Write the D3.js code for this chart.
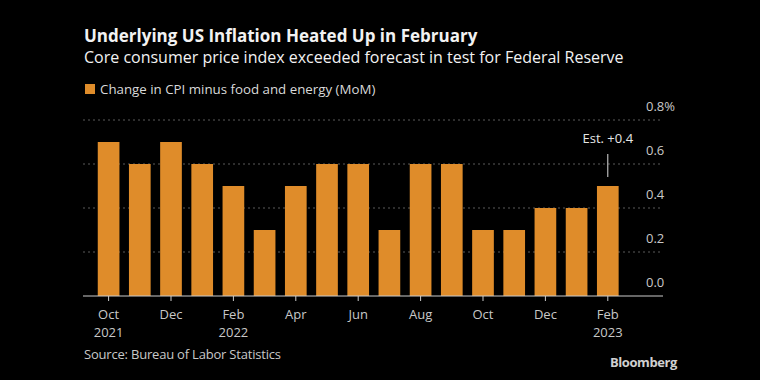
<!DOCTYPE html>
<html><head><meta charset="utf-8">
<script src="https://cdn.jsdelivr.net/npm/d3@7"></script>
<style>
html,body{margin:0;padding:0;background:#000;}
svg{display:block;}
text{font-family:"Open Sans","Noto Sans",sans-serif;}
</style></head>
<body>
<svg id="c" width="760" height="380"></svg>
<script>
const months = ["Oct","Nov","Dec","Jan","Feb","Mar","Apr","May","Jun","Jul","Aug","Sep","Oct","Nov","Dec","Jan","Feb"];
const years = [2021,2021,2021,2022,2022,2022,2022,2022,2022,2022,2022,2022,2022,2022,2022,2023,2023];
const values = [0.7,0.6,0.7,0.6,0.5,0.3,0.5,0.6,0.6,0.3,0.6,0.6,0.3,0.3,0.4,0.4,0.5];
const yTicks = [0, 0.2, 0.4, 0.6, 0.8];
const tickLabelIdx = [0,2,4,6,8,10,12,14,16];
const yearLabelIdx = [0,4,16];
const estimate = {index: 16, label: "Est. +0.4"};

const svg = d3.select("#c");
svg.append("rect").attr("width",760).attr("height",380).attr("fill","#000");

const ids = months.map((m,i)=>i);
const x = d3.scaleBand().domain(ids).range([93, 623.4]).paddingInner(0.305).paddingOuter(0.1525);
const y = d3.scaleLinear().domain([0,0.8]).range([296,120]);

// title
svg.append("text").attr("x",84).attr("y",42).attr("fill","#f2f2f2")
  .style("font-size","17px").style("font-weight","700")
  .text("Underlying US Inflation Heated Up in February");
svg.append("text").attr("x",84).attr("y",62.5).attr("fill","#f2f2f2")
  .style("font-size","16px")
  .text("Core consumer price index exceeded forecast in test for Federal Reserve");

// legend
svg.append("rect").attr("x",85).attr("y",84).attr("width",10).attr("height",10).attr("fill","#df8c2a");
svg.append("text").attr("x",100).attr("y",94).attr("fill","#d9d9d9")
  .style("font-size","13.3px")
  .text("Change in CPI minus food and energy (MoM)");

// gridlines
svg.append("g").selectAll("line").data(yTicks.filter(d=>d>0)).join("line")
  .attr("x1",83).attr("x2",663).attr("y1",d=>y(d)).attr("y2",d=>y(d))
  .attr("stroke","#5a5a5a").attr("stroke-width",1).attr("stroke-dasharray","2,3");

// y labels
svg.append("g").selectAll("text").data(yTicks).join("text")
  .attr("x",646).attr("y",d=>y(d)-9).attr("fill","#c8c8c8")
  .style("font-size","13px")
  .text(d=> d===0.8 ? d3.format(".1f")(d)+"%" : d3.format(".1f")(d));

// bars
svg.append("g").selectAll("rect").data(values).join("rect")
  .attr("x",(d,i)=>x(i)).attr("width",x.bandwidth())
  .attr("y",d=>y(d)).attr("height",d=>y(0)-y(d))
  .attr("fill","#df8c2a");

// axis
const xAxis = d3.axisBottom(x).tickValues(tickLabelIdx).tickSize(5).tickFormat("");
const ax = svg.append("g").attr("transform",`translate(0,${y(0)})`).call(xAxis);
ax.select(".domain").remove();
ax.selectAll(".tick line").attr("stroke","#cccccc");
svg.append("line").attr("x1",83).attr("x2",663).attr("y1",y(0)).attr("y2",y(0))
  .attr("stroke","#cccccc").attr("stroke-width",1.2);

const lbl = svg.append("g");
tickLabelIdx.forEach(i=>{
  const cx = x(i)+x.bandwidth()/2;
  lbl.append("text").attr("x",cx).attr("y",319).attr("text-anchor","middle")
    .attr("fill","#c8c8c8").style("font-size","13px").text(months[i]);
  if (yearLabelIdx.includes(i)) {
    lbl.append("text").attr("x",cx).attr("y",337).attr("text-anchor","middle")
      .attr("fill","#c8c8c8").style("font-size","13px").text(years[i]);
  }
});

// estimate annotation
const ex = x(estimate.index)+x.bandwidth()/2;
svg.append("line").attr("x1",ex).attr("x2",ex).attr("y1",154).attr("y2",177)
  .attr("stroke","#dddddd").attr("stroke-width",1);
svg.append("text").attr("x",ex).attr("y",143).attr("text-anchor","middle")
  .attr("fill","#e6e6e6").style("font-size","13px").text(estimate.label);

// source
svg.append("text").attr("x",84).attr("y",359).attr("fill","#c8c8c8")
  .style("font-size","13px").style("letter-spacing","-0.2px")
  .text("Source: Bureau of Labor Statistics");
svg.append("text").attr("x",677).attr("y",367).attr("text-anchor","end").attr("fill","#d0d0d0")
  .style("font-size","13px").style("font-weight","700").style("letter-spacing","-0.4px")
  .text("Bloomberg");
</script>
</body></html>
